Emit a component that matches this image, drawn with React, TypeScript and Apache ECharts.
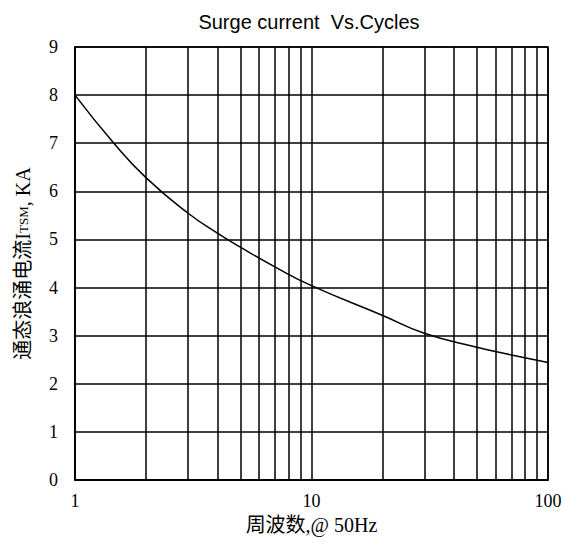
import React, { useEffect, useRef } from "react";
import * as echarts from "echarts";

const cycles = [1, 1.46, 2, 3, 4, 5, 7, 10, 20, 30, 50, 70, 100];
const surgeKA = [8, 7, 6.28, 5.55, 5.13, 4.84, 4.43, 4.04, 3.42, 3.05, 2.76, 2.6, 2.44];
const minorGridX = [2, 3, 4, 5, 6, 7, 8, 9, 20, 30, 40, 50, 60, 70, 80, 90];
const yTicks = [0, 9, 1];

const SERIF = "'Liberation Serif', 'Noto Sans CJK SC', serif";

export default function App() {
  const ref = useRef<HTMLDivElement>(null);
  useEffect(() => {
    const chart = echarts.init(ref.current!, null, { renderer: "svg" });
    const lineStyle = { color: "#000", width: 1.5 };
    chart.setOption({
      animation: false,
      backgroundColor: "#fff",
      title: {
        text: "Surge current  Vs.Cycles",
        left: 304,
        textAlign: "center",
        top: 7,
        textStyle: { fontFamily: "'Liberation Sans', Arial, sans-serif", fontSize: 20, fontWeight: "normal", color: "#000" },
      },
      grid: { left: 75, right: 17, top: 47, bottom: 63, show: true, borderColor: "#000", borderWidth: 1.5 },
      xAxis: {
        type: "log",
        logBase: 10,
        min: 1,
        max: 100,
        name: "周波数,@ 50Hz",
        nameLocation: "middle",
        nameGap: 33,
        nameTextStyle: { fontFamily: SERIF, fontSize: 20, color: "#000" },
        axisLine: { show: true, lineStyle },
        axisTick: { show: false },
        axisLabel: { fontFamily: SERIF, fontSize: 18, color: "#000", margin: 12 },
        splitLine: { show: true, lineStyle },
      },
      yAxis: {
        type: "value",
        min: yTicks[0],
        max: yTicks[1],
        interval: yTicks[2],
        name: "{a|通态浪涌电流I}{b|TSM}{a|, KA}",
        nameLocation: "middle",
        nameGap: 42,
        nameTextStyle: {
          rich: {
            a: { fontFamily: SERIF, fontSize: 20, color: "#000" },
            b: { fontFamily: SERIF, fontSize: 13, color: "#000" },
          },
        },
        axisLine: { show: true, lineStyle },
        axisTick: { show: false },
        axisLabel: { fontFamily: SERIF, fontSize: 18, color: "#000", margin: 17 },
        splitLine: { show: true, lineStyle },
      },
      series: [
        {
          type: "line",
          data: cycles.map((c, i) => [c, surgeKA[i]]),
          smooth: 0.5,
          showSymbol: false,
          symbol: "none",
          lineStyle: { color: "#000", width: 1.5 },
          markLine: {
            silent: true,
            symbol: "none",
            label: { show: false },
            lineStyle: { color: "#000", width: 1.5, type: "solid" },
            data: minorGridX.map((v) => ({ xAxis: v })),
          },
        },
      ],
    });
    return () => chart.dispose();
  }, []);
  return <div ref={ref} style={{ width: 565, height: 543, position: "absolute", left: 0, top: 0 }} />;
}
